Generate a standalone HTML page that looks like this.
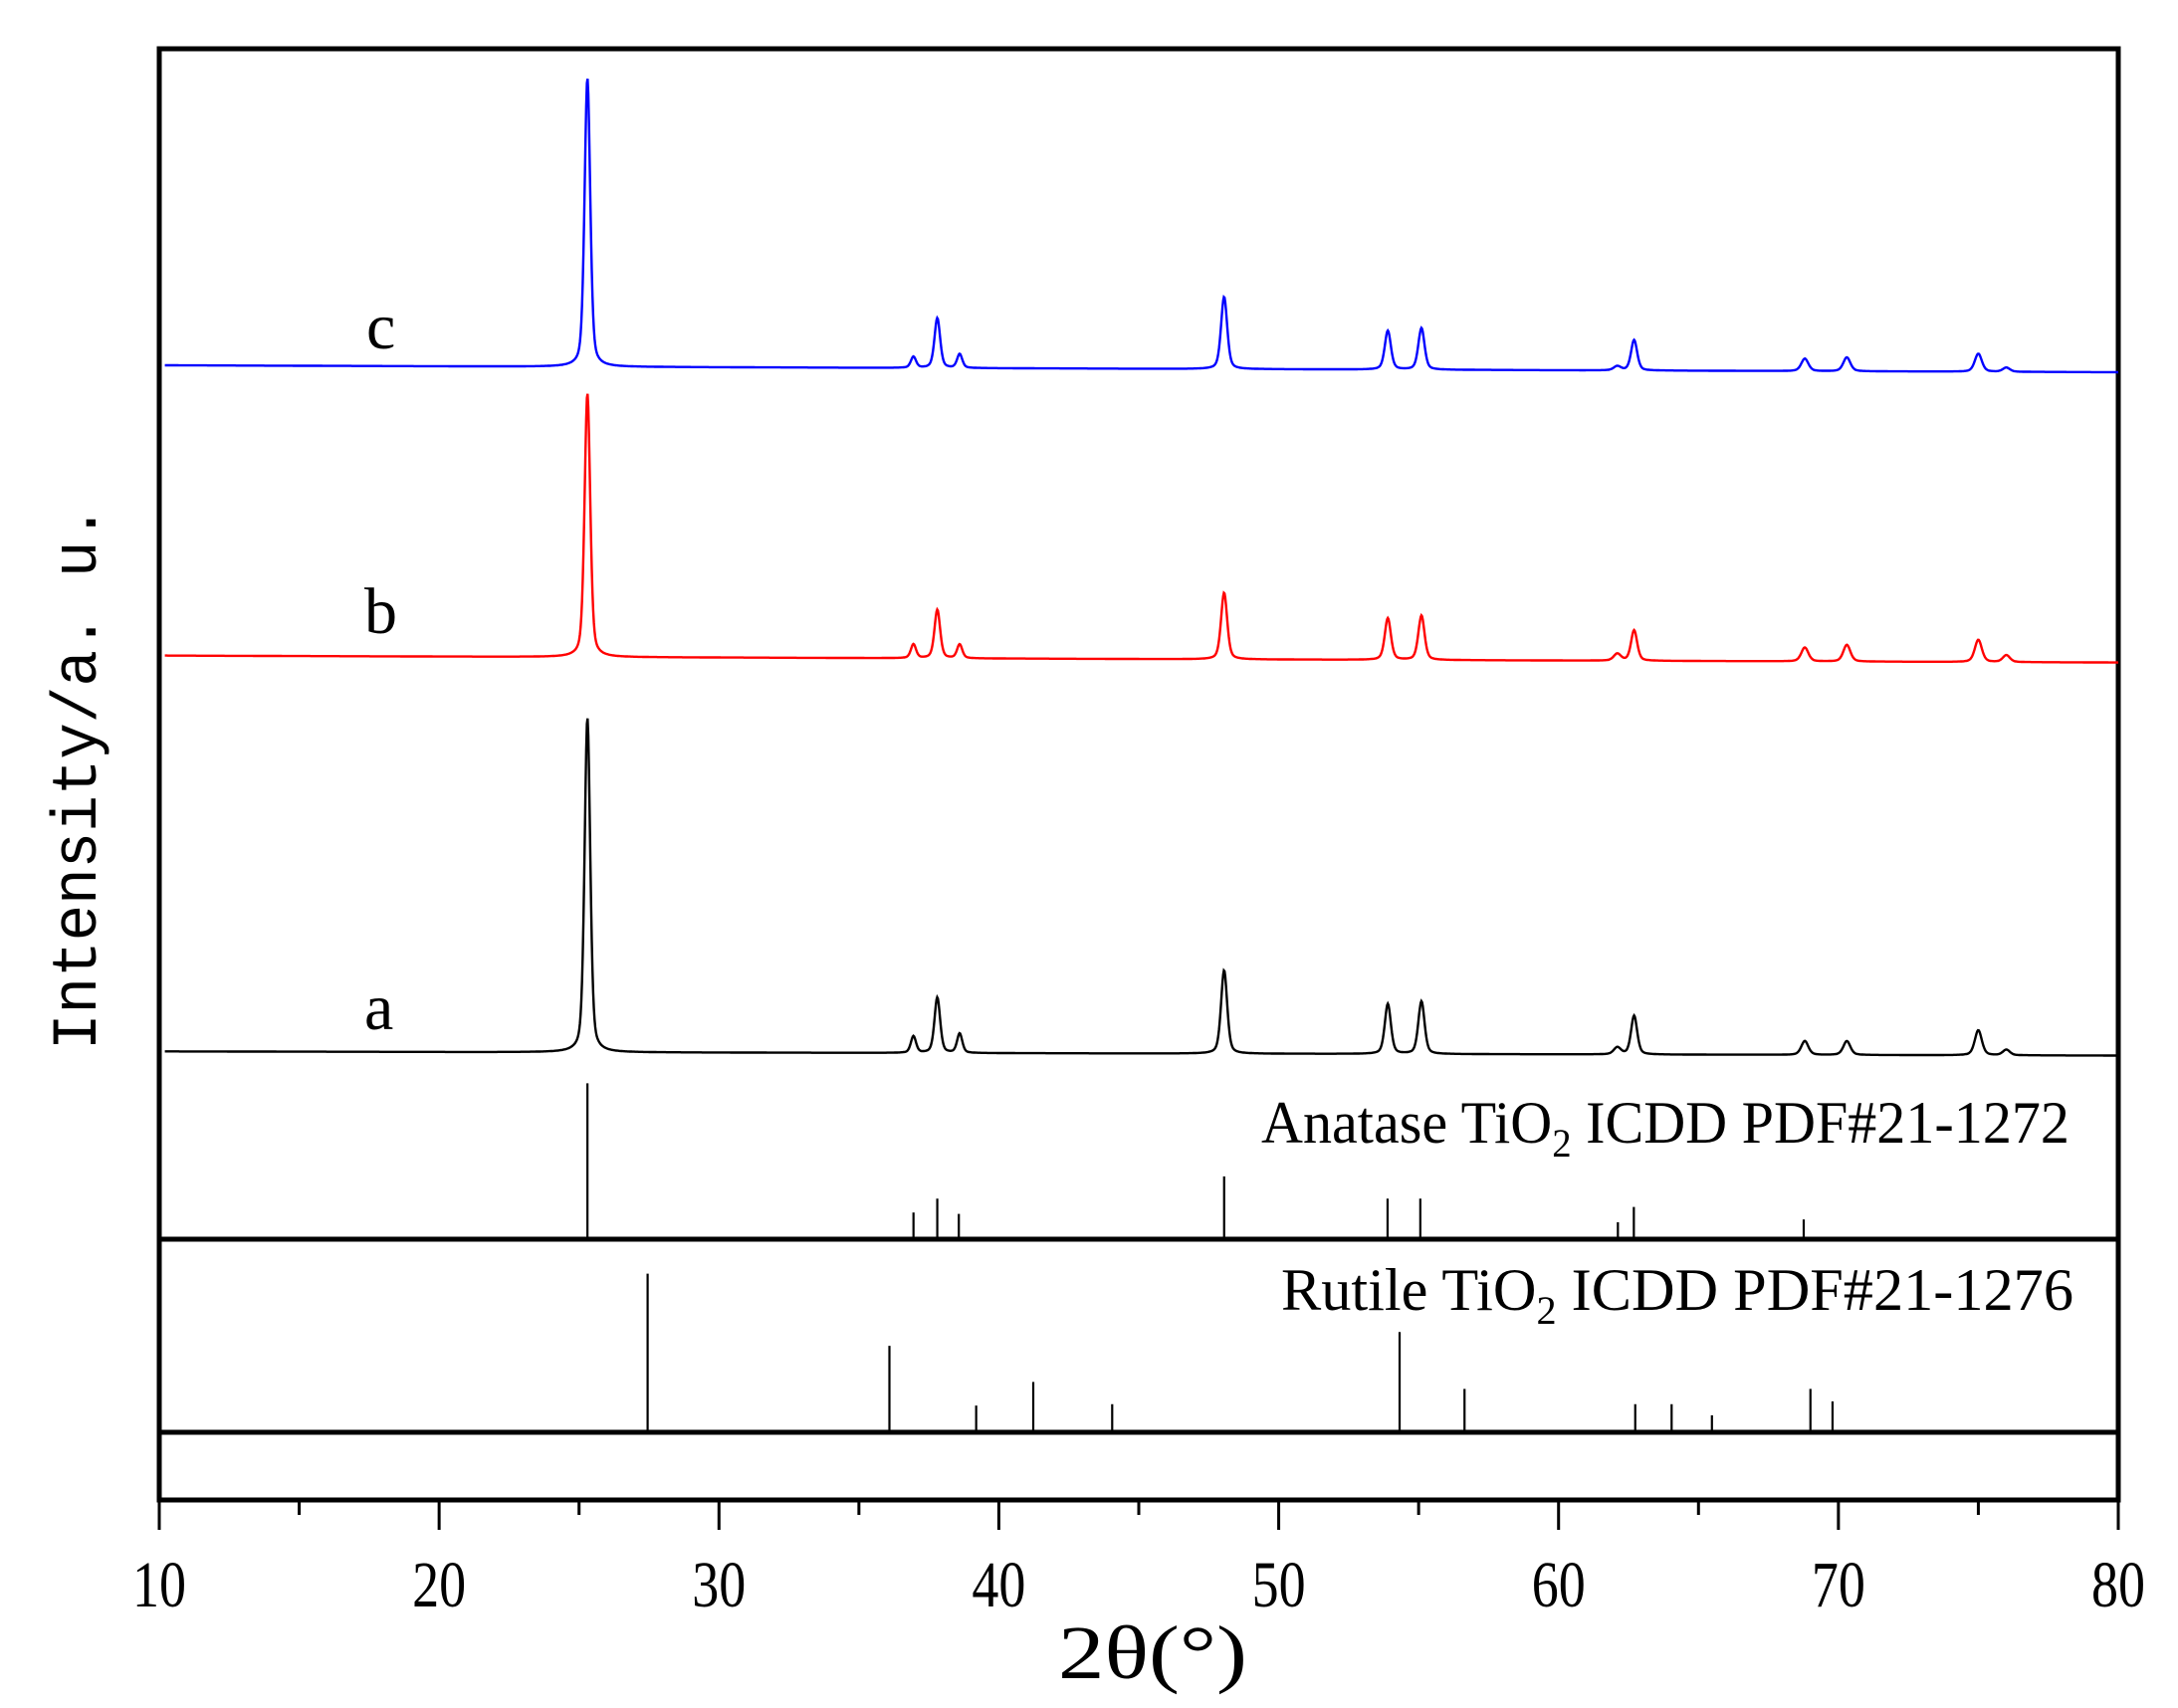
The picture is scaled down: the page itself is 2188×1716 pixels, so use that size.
<!DOCTYPE html>
<html><head><meta charset="utf-8"><style>
html,body{margin:0;padding:0;background:#fff;}
svg{display:block;}
text{font-family:"Liberation Serif",serif;fill:#000;}
</style></head><body>
<svg id="chart" width="2188" height="1716" viewBox="0 0 2188 1716" xmlns="http://www.w3.org/2000/svg">
<g id="frame"></g>
<g id="series"></g>
<g id="sticks"></g>
<g id="axis"></g>
<text x="368" y="350" font-size="66">c</text>
<text x="366" y="636" font-size="66">b</text>
<text x="366" y="1034" font-size="66">a</text>
<text x="1267" y="1148" font-size="60" textLength="812" lengthAdjust="spacingAndGlyphs">Anatase TiO<tspan font-size="40" dy="14">2</tspan><tspan dy="-14"> ICDD PDF#21-1272</tspan></text>
<text x="1287" y="1316" font-size="60" textLength="796" lengthAdjust="spacingAndGlyphs">Rutile  TiO<tspan font-size="40" dy="14">2</tspan><tspan dy="-14"> ICDD  PDF#21-1276</tspan></text>
<text x="1158" y="1686" font-size="76" text-anchor="middle" textLength="190" lengthAdjust="spacingAndGlyphs">2θ(°)</text>
<text transform="translate(96,781) rotate(-90)" font-size="64" text-anchor="middle" textLength="548" lengthAdjust="spacingAndGlyphs" style="font-family:'Liberation Mono',monospace">Intensity/a. u.</text>
</svg>
<script>
const xTicks=[10,20,30,40,50,60,70,80];
const minorTicks=[15,25,35,45,55,65,75];
const peakPos=[25.3,36.95,37.8,38.6,48.05,53.9,55.1,62.1,62.7,68.8,70.3,75.0,76.0];
const peakW=[0.24,0.22,0.24,0.22,0.26,0.26,0.26,0.3,0.26,0.3,0.3,0.3,0.3];
const seriesC=[208,8,36,10,52,28,30,3,22,9,10,13,3];
const seriesB=[190,10,35,10,48,30,32,5,22,10,12,16,5];
const seriesA=[241,12,40,14,60,36,38,5,28,10,10,18,4];
const baseC=[263,268];
const baseB=[472,477];
const baseA=[757,760];
const anatasePos=[25.3,36.95,37.8,38.57,48.05,53.89,55.06,62.12,62.69,68.76];
const anataseInt=[112,19,29,18,45,29,29,12,23,14];
const rutilePos=[27.45,36.09,39.19,41.23,44.05,54.32,56.64,62.74,64.04,65.48,69.0,69.79];
const rutileInt=[114,62,19,36,20,72,31,20,20,12,31,22];

const NS='http://www.w3.org/2000/svg';
const S=1.3954;
const X0=160,X1=2128;
function xs(v){return X0+(v-10)/(80-10)*(X1-X0);}
function ys(v,base){return base*S - v*S;}
function mk(tag,attrs,parent){const e=document.createElementNS(NS,tag);for(const k in attrs)e.setAttribute(k,attrs[k]);parent.appendChild(e);return e;}

const frame=document.getElementById('frame');
const fr=mk('rect',{x:X0,y:49,width:X1-X0,height:1507-49,fill:'none',stroke:'#000','stroke-width':5},frame);


const l1=mk('line',{x1:X0,x2:X1,y1:1245,y2:1245,stroke:'#000','stroke-width':5},frame);


const l2=mk('line',{x1:X0,x2:X1,y1:1439,y2:1439,stroke:'#000','stroke-width':5},frame);



const axis=document.getElementById('axis');
xTicks.forEach(t=>{
  const ln=mk('line',{x1:xs(t),x2:xs(t),y1:1507,y2:1537,stroke:'#000','stroke-width':3},axis);
  
  
  const tx=mk('text',{x:xs(t),y:1614,'font-size':66,'text-anchor':'middle',textLength:54,lengthAdjust:'spacingAndGlyphs'},axis);
  tx.textContent=t;
  
  
});
minorTicks.forEach(t=>{
  const ln=mk('line',{x1:xs(t),x2:xs(t),y1:1507,y2:1522,stroke:'#000','stroke-width':3},axis);
  
  
});

const series=document.getElementById('series');
function drawSeries(vals,base,color,name){
  let d='';
  for(let i=0;i<=2800;i++){
    const x=10.2+i*(80-10.2)/2800;
    let v=0;
    for(let k=0;k<peakPos.length;k++){
      const w=peakW[k]/2;const dx=x-peakPos[k];
      v+=vals[k]*(0.6*Math.exp(-Math.LN2*dx*dx/(w*w))+0.4/(1+dx*dx/(w*w)));
    }
    const b=base[0]+(base[1]-base[0])*(x-10)/70;
    d+=(i?'L':'M')+xs(x).toFixed(1)+','+ys(v,b).toFixed(1);
  }
  const p=mk('path',{d:d,fill:'none',stroke:color,'stroke-width':2.4},series);
  
  
}
drawSeries(seriesC,baseC,'#0000ff','series-c');
drawSeries(seriesB,baseB,'#ff0000','series-b');
drawSeries(seriesA,baseA,'#000000','series-a');

const sticks=document.getElementById('sticks');
anatasePos.forEach((p,i)=>{
  const ln=mk('line',{x1:xs(p),x2:xs(p),y1:1245,y2:ys(anataseInt[i],892),stroke:'#000','stroke-width':2.2},sticks);
  
  
});
rutilePos.forEach((p,i)=>{
  const ln=mk('line',{x1:xs(p),x2:xs(p),y1:1439,y2:ys(rutileInt[i],1031),stroke:'#000','stroke-width':2.2},sticks);
  
  
});
</script>
</body></html>
